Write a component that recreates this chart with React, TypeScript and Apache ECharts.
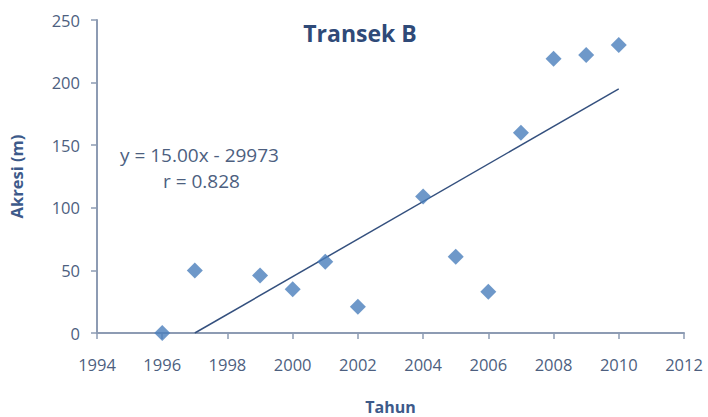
import React, { useEffect, useRef } from "react";
import * as echarts from "echarts";

const years = [1996, 1997, 1999, 2000, 2001, 2002, 2004, 2005, 2006, 2007, 2008, 2009, 2010];
const akresi = [0, 50, 46, 35, 57, 21, 109, 61, 33, 160, 219, 222, 230];
const trendYears = [1997, 2010];
const trendValues = [0, 195];
const titleText = "Transek B";
const equationText = "y = 15.00x - 29973";
const rText = "r = 0.828";

const labelColor = "#4d5f7f";
const axisColor = "#8d9bb3";
const font = "'Open Sans', 'Noto Sans', sans-serif";

export default function App() {
  const ref = useRef<HTMLDivElement>(null);
  useEffect(() => {
    if (!ref.current) return;
    const chart = echarts.init(ref.current, null, { renderer: "svg" });
    chart.setOption({
      animation: false,
      backgroundColor: "#ffffff",
      title: {
        text: titleText,
        left: 355,
        top: 16,
        textAlign: "center",
        textStyle: { color: "#2f4a78", fontSize: 23, fontWeight: "bold", fontFamily: font },
      },
      grid: { left: 97, right: 24, top: 20, bottom: 84, outerBoundsMode: "none", containLabel: false },
      xAxis: {
        type: "value",
        min: 1994,
        max: 2012,
        interval: 2,
        name: "Tahun",
        nameLocation: "middle",
        nameGap: 66,
        nameTextStyle: { color: "#3d5a8a", fontSize: 16, fontWeight: "bold", fontFamily: font },
        axisLine: { show: true, lineStyle: { color: axisColor, width: 2 } },
        axisTick: { show: true, length: 6, lineStyle: { color: axisColor, width: 1.5 } },
        axisLabel: { color: labelColor, fontSize: 16.5, fontFamily: font, margin: 23, formatter: (v: number) => String(v) },
        splitLine: { show: false },
      },
      yAxis: {
        type: "value",
        min: 0,
        max: 250,
        interval: 50,
        name: "Akresi (m)",
        nameLocation: "middle",
        nameGap: 72,
        nameRotate: 90,
        nameTextStyle: { color: "#3d5a8a", fontSize: 16.5, fontWeight: "bold", fontFamily: font },
        axisLine: { show: true, lineStyle: { color: axisColor, width: 2 } },
        axisTick: { show: true, length: 6, lineStyle: { color: axisColor, width: 1.5 } },
        axisLabel: { color: labelColor, fontSize: 16.5, fontFamily: font, margin: 17 },
        splitLine: { show: false },
      },
      graphic: [
        {
          type: "text",
          x: 120,
          y: 155,
          style: { text: equationText, fill: labelColor, fontSize: 19, fontFamily: font, verticalAlign: "middle" },
        },
        {
          type: "text",
          x: 163,
          y: 181,
          style: { text: rText, fill: labelColor, fontSize: 19, fontFamily: font, verticalAlign: "middle" },
        },
      ],
      series: [
        {
          type: "line",
          data: trendYears.map((y, i) => [y, trendValues[i]]),
          symbol: "none",
          lineStyle: { color: "#34507e", width: 1.5 },
          z: 2,
        },
        {
          type: "scatter",
          data: years.map((y, i) => [y, akresi[i]]),
          symbol: "diamond",
          symbolSize: [16, 16],
          itemStyle: { color: "#4a7ebb" },
          z: 3,
        },
      ],
    });
    return () => chart.dispose();
  }, []);
  return <div ref={ref} style={{ width: 708, height: 417, position: "absolute", left: 0, top: 0 }} />;
}
